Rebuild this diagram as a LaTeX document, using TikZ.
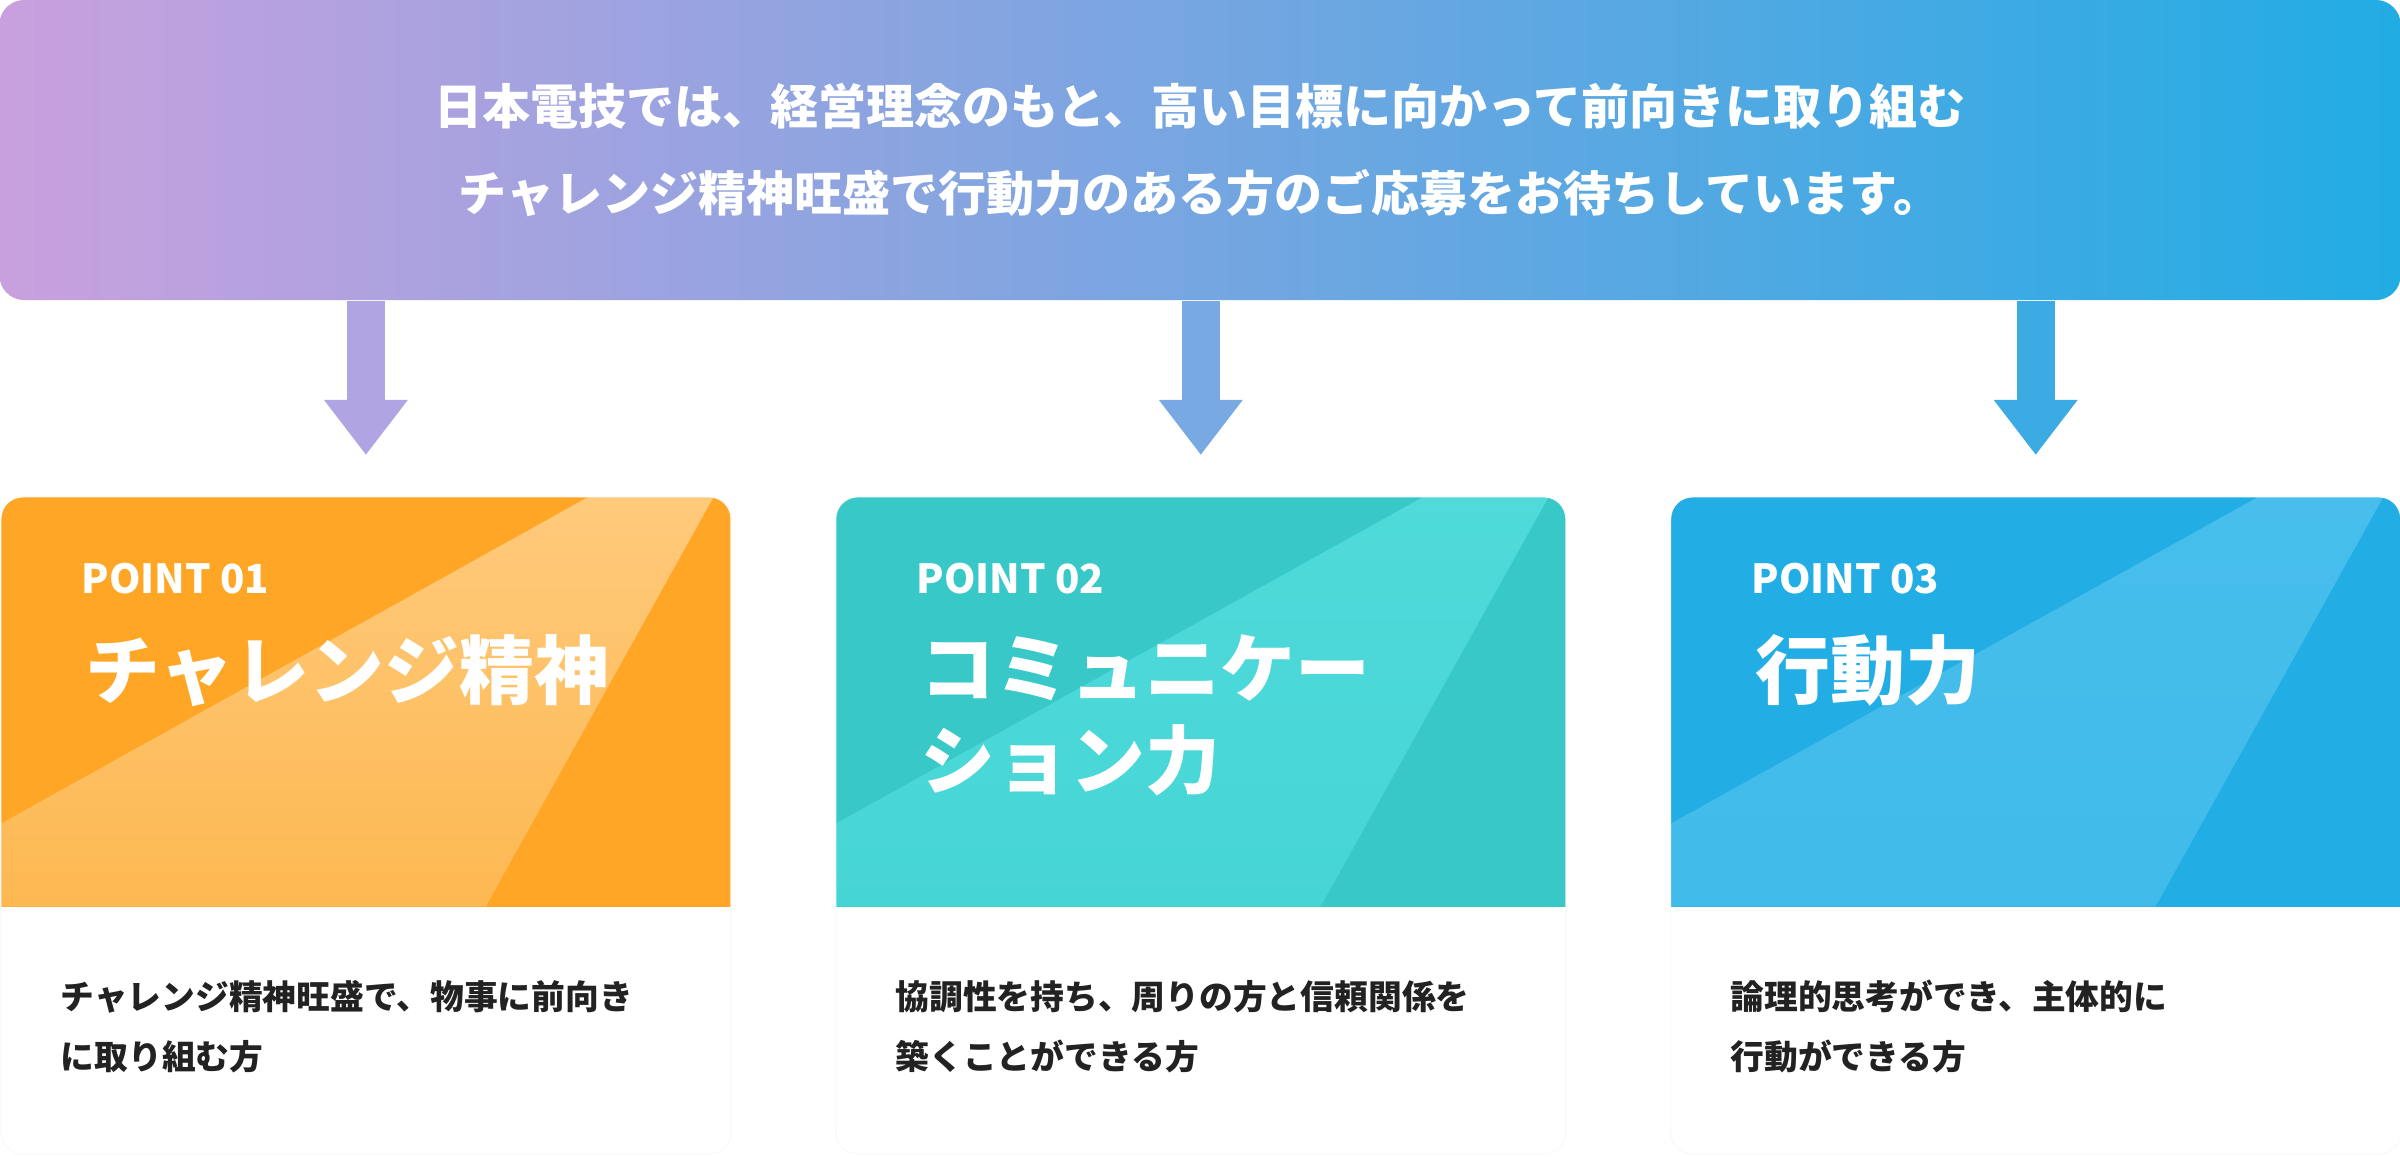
\documentclass[tikz,border=0pt]{standalone}
\usepackage{fontspec}
\setmainfont{Noto Sans CJK JP}
\usetikzlibrary{positioning,arrows.meta}
\definecolor{bannerL}{HTML}{C9A0DE}
\definecolor{bannerR}{HTML}{22ACE4}
\definecolor{orangeBase}{HTML}{FFA626}
\definecolor{orangeHi}{HTML}{FFCA7C}
\definecolor{orangeLo}{HTML}{FDB851}
\definecolor{tealBase}{HTML}{39C8C8}
\definecolor{tealHi}{HTML}{50DADA}
\definecolor{tealLo}{HTML}{46D5D5}
\definecolor{blueBase}{HTML}{22ADE4}
\definecolor{blueHi}{HTML}{47BEEC}
\definecolor{blueLo}{HTML}{40BBEA}
\definecolor{arrowA}{HTML}{B0A5E2}
\definecolor{arrowB}{HTML}{79A9E3}
\definecolor{arrowC}{HTML}{3DABE3}
\definecolor{textdark}{HTML}{222222}
\begin{document}
\begin{tikzpicture}[x=0.01cm,y=-0.01cm,
    banner/.style={rectangle, minimum width=24cm, minimum height=3cm, rounded corners=0.25cm, left color=bannerL, right color=bannerR, text=white, align=center, font=\bfseries\fontsize{13.66}{24.75}\selectfont},
    card/.style n args={3}{rectangle, minimum width=7.3cm, minimum height=6.57cm, inner sep=0pt, rounded corners=0.22cm, fill=white, draw=black!2, path picture={
        \fill[#1, sharp corners] (path picture bounding box.north west) rectangle ++(730,410);
        \path[top color=#2, bottom color=#3, sharp corners] (path picture bounding box.north west) ++(0,327) -- ++(588,-327) -- ++(125,0) -- ++(-228,410) -- ++(-485,0) -- cycle;}},
    pointlbl/.style={anchor=west, inner sep=0pt, text=white, font=\bfseries\fontsize{11.4}{13}\selectfont},
    titlelbl/.style={anchor=north west, inner sep=0pt, text=white, align=left, font=\bfseries\fontsize{21.3}{26.2}\selectfont},
    desclbl/.style={anchor=west, inner sep=0pt, text=textdark, align=left, font=\bfseries\fontsize{9.6}{17.07}\selectfont},
    flow/.style={line width=0.38cm, shorten >=0.41cm, -{Triangle[width=0.8cm, length=0.55cm]}}]
    \useasboundingbox (0,0) rectangle (2400,1156);

    \node[banner] (banner) at (1200,150) {日本電技では、経営理念のもと、高い目標に向かって前向きに取り組む\\チャレンジ精神旺盛で行動力のある方のご応募をお待ちしています。};

    \node[card={orangeBase}{orangeHi}{orangeLo}, anchor=north west] (card1) at (0,496) {};
    \node[card={tealBase}{tealHi}{tealLo}, right=1.03cm of card1] (card2) {};
    \node[card={blueBase}{blueHi}{blueLo}, right=1.03cm of card2] (card3) {};

    \draw[flow, draw=arrowA] (banner.south -| card1.north) -- (card1.north);
    \draw[flow, draw=arrowB] (banner.south -| card2.north) -- (card2.north);
    \draw[flow, draw=arrowC] (banner.south -| card3.north) -- (card3.north);

    % card texts
    \node[pointlbl] (point1) at ([xshift=0.81cm, yshift=-0.83cm]card1.north west) {POINT 01};
    \node[titlelbl] (title1) at ([xshift=0.85cm, yshift=-1.38cm]card1.north west) {チャレンジ精神};
    \node[desclbl] (desc1) at ([xshift=0.6cm, yshift=-5.3cm]card1.north west) {チャレンジ精神旺盛で、物事に前向き\\に取り組む方};

    \node[pointlbl] (point2) at ([xshift=0.81cm, yshift=-0.83cm]card2.north west) {POINT 02};
    \node[titlelbl] (title2) at ([xshift=0.85cm, yshift=-1.38cm]card2.north west) {コミュニケー\\ション力};
    \node[desclbl] (desc2) at ([xshift=0.6cm, yshift=-5.3cm]card2.north west) {協調性を持ち、周りの方と信頼関係を\\築くことができる方};

    \node[pointlbl] (point3) at ([xshift=0.81cm, yshift=-0.83cm]card3.north west) {POINT 03};
    \node[titlelbl] (title3) at ([xshift=0.85cm, yshift=-1.38cm]card3.north west) {行動力};
    \node[desclbl] (desc3) at ([xshift=0.6cm, yshift=-5.3cm]card3.north west) {論理的思考ができ、主体的に\\行動ができる方};
\end{tikzpicture}
\end{document}
